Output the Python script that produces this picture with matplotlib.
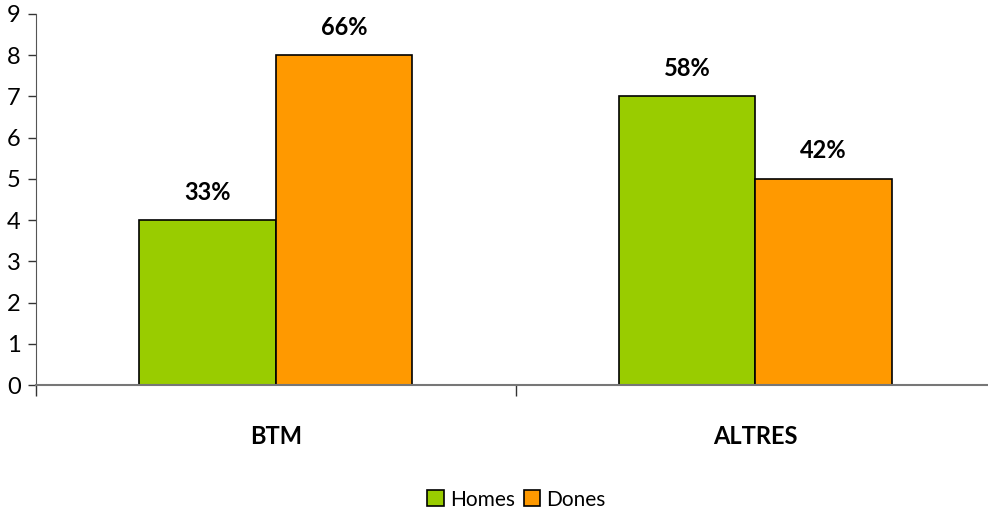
import numpy as np
import matplotlib
matplotlib.use("Agg")
import matplotlib.pyplot as plt
from matplotlib.ticker import FixedLocator

plt.rcParams['font.family'] = ['Lato', 'DejaVu Sans']

# dades
categories = ['BTM', 'ALTRES']
homes = [4, 7]
dones = [8, 5]
pct_homes = ['33%', '58%']
pct_dones = ['66%', '42%']

fig = plt.figure(figsize=(9.88, 5.17), dpi=100)
ax = fig.add_axes([36/988, (517-385)/517, 959/988, 371/517])

x = np.arange(len(categories))
w = 0.285
b1 = ax.bar(x - w/2, homes, w, color='#99cc00', edgecolor='black', linewidth=1.2, label='Homes')
b2 = ax.bar(x + w/2, dones, w, color='#ff9900', edgecolor='black', linewidth=1.2, label='Dones')

for bars, labs in ((b1, pct_homes), (b2, pct_dones)):
    for r, t in zip(bars, labs):
        ax.text(r.get_x() + r.get_width()/2, r.get_height() + 0.4, t,
                ha='center', va='bottom', fontsize=17, fontweight='bold')

ax.set_xlim(-0.5, 1.5)
ax.set_ylim(0, 9)
ax.set_yticks(range(10))
ax.set_xticks(x)
ax.set_xticklabels(categories, fontsize=17, fontweight='bold')
ax.xaxis.set_minor_locator(FixedLocator([-0.5, 0.5, 1.5]))
ax.tick_params(axis='x', which='major', length=0, pad=29)
ax.tick_params(axis='x', which='minor', length=8, width=1, color='#333333')
ax.tick_params(axis='y', length=6, width=1, labelsize=17, pad=5, color='#333333')

for s in ('top', 'right'):
    ax.spines[s].set_visible(False)
ax.spines['left'].set_color('#555555')
ax.spines['bottom'].set_color('#777777')
ax.spines['bottom'].set_linewidth(1.5)

fig.legend(handles=[b1, b2], loc='lower center', bbox_to_anchor=(0.523, -0.022),
           ncol=2, frameon=False, fontsize=15, handlelength=0.8, handleheight=0.8,
           handletextpad=0.3, columnspacing=0.4)

fig.savefig('out.png', dpi=100)
